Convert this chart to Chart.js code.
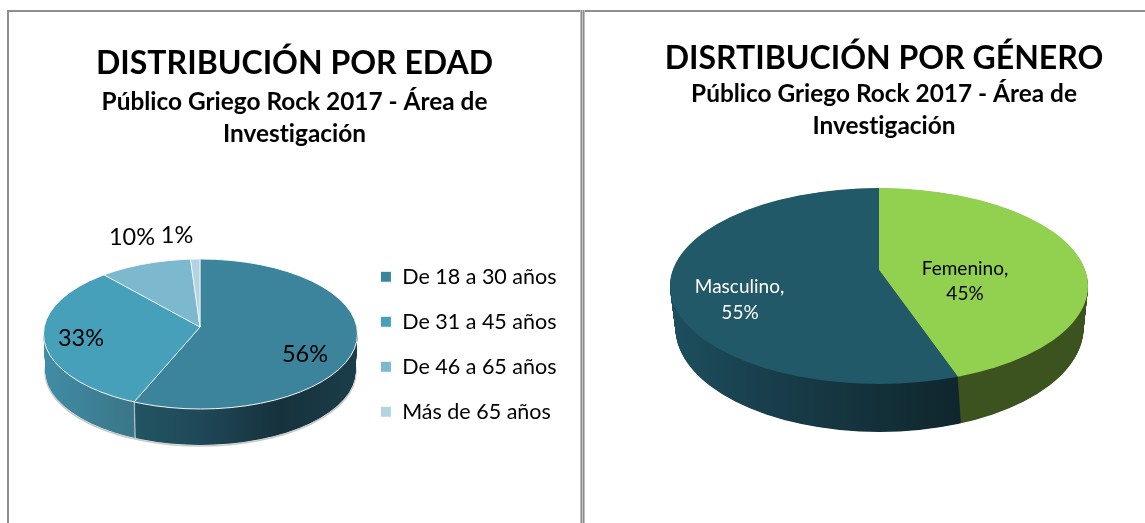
<!DOCTYPE html>
<html>
<head>
<meta charset="utf-8">
<script src="https://cdn.jsdelivr.net/npm/chart.js@4/dist/chart.umd.js"></script>
<style>
html,body{margin:0;padding:0;background:#fff;width:1145px;height:523px;overflow:hidden}
canvas{position:absolute;top:0}
.ln{position:absolute;background:#8e8e8e}
</style>
</head>
<body>
<div class="ln" style="left:7px;top:10px;width:1138px;height:2px"></div>
<div class="ln" style="left:7px;top:10px;width:2px;height:513px"></div>
<div class="ln" style="left:580px;top:10px;width:5px;height:513px;background:linear-gradient(90deg,#bdbdbd 0 20%,#8a8a8a 20% 40%,#c4c4c4 40% 60%,#8a8a8a 60% 80%,#bdbdbd 80% 100%)"></div>
<canvas id="edad" width="569" height="523" style="left:10px"></canvas>
<canvas id="genero" width="522" height="523" style="left:623px"></canvas>
<script>
const edadTitle = 'DISTRIBUCIÓN POR EDAD';
const generoTitle = 'DISRTIBUCIÓN POR GÉNERO';
const subtitleLines = ['Público Griego Rock 2017 - Área de', 'Investigación'];

const edadCategories = ['De 18 a 30 años', 'De 31 a 45 años', 'De 46 a 65 años', 'Más de 65 años'];
const edadValues = [56, 33, 10, 1];
const edadColors = ['#3b849c', '#46a0ba', '#7cb8ce', '#b4d4e1'];

const generoCategories = ['Femenino', 'Masculino'];
const generoValues = [45, 55];
const generoColors = ['#92d050', '#215968'];

const FONT = 'Lato, Carlito, Calibri, sans-serif';

// Tilted-pie drawing: re-draws the library's own arc elements under a transform.
const pie3d = {
  id: 'pie3d',
  beforeDraw(chart) {
    chart.ctx.letterSpacing = '0.001px';
  },
  beforeDatasetDraw(chart, args, o) {
    const ctx = chart.ctx;
    const arcs = chart.getDatasetMeta(0).data;
    const k = 2 * o.top.rx / arcs[0].outerRadius;
    const paint = (ell, ax, ay, fillFor, bw) => {
      ctx.save();
      ctx.beginPath();
      ctx.ellipse(ell.cx - o.left, ell.cy, ell.rx, ell.ry, 0, 0, Math.PI * 2);
      ctx.clip();
      arcs.forEach((el, i) => {
        const saved = el.options;
        ctx.save();
        ctx.translate(ax - o.left, ay);
        ctx.scale(k, k * o.tilt);
        ctx.translate(-el.x, -el.y);
        el.options = Object.assign({}, saved, {
          backgroundColor: fillFor(i, el, ax),
          borderColor: '#fff',
          borderWidth: bw / k
        });
        el.draw(ctx);
        el.options = saved;
        ctx.restore();
      });
      ctx.restore();
    };
    const wallFill = (i, el, ax) => {
      const g = ctx.createLinearGradient(
        el.x + (o.wallFrom - ax) / k, 0, el.x + (o.wallTo - ax) / k, 0);
      o.walls[i].forEach(s => g.addColorStop((s[0] - o.wallFrom) / (o.wallTo - o.wallFrom), s[1]));
      return g;
    };
    if (o.halo) {
      ctx.save();
      ctx.strokeStyle = o.halo;
      ctx.lineWidth = 1.6;
      ctx.beginPath();
      ctx.ellipse(o.bottom.cx - o.left, o.bottom.cy + 0.5, o.bottom.rx + 0.5, o.bottom.ry + 0.5, 0, 0, Math.PI * 2);
      ctx.stroke();
      ctx.restore();
    }
    const steps = 70;
    for (let s = steps; s >= 1; s--) {
      const t = s / steps;
      const e = {
        cx: o.top.cx + (o.bottom.cx - o.top.cx) * t,
        cy: o.top.cy + (o.bottom.cy - o.top.cy) * t,
        rx: o.top.rx + (o.bottom.rx - o.top.rx) * t,
        ry: o.top.ry + (o.bottom.ry - o.top.ry) * t
      };
      paint(e, o.apex.x, o.apex.y + (e.cy - o.top.cy), wallFill, o.border);
    }
    paint(o.top, o.apex.x, o.apex.y, (i, el) => el.options.backgroundColor, o.border);
    if (o.border) {
      ctx.save();
      ctx.strokeStyle = '#f4f8f9';
      ctx.lineWidth = 1;
      ctx.beginPath();
      ctx.ellipse(o.top.cx - o.left, o.top.cy, o.top.rx, o.top.ry, 0, 0, Math.PI * 2);
      ctx.stroke();
      ctx.restore();
    }
    return false;
  },
  afterDatasetsDraw(chart, args, o) {
    const ctx = chart.ctx;
    ctx.save();
    ctx.textAlign = 'center';
    ctx.textBaseline = 'middle';
    o.labels.forEach(l => {
      ctx.font = o.labelFont;
      ctx.fillStyle = l.color;
      ctx.fillText(l.text, l.x - o.left, l.y);
    });
    ctx.restore();
  }
};

const baseOptions = (titleText, titleTop, titleSize, subSize, subPad) => ({
  responsive: false,
  animation: false,
  events: [],
  plugins: {
    tooltip: { enabled: false },
    title: {
      display: true,
      text: titleText,
      color: '#000',
      font: { family: FONT, size: titleSize, weight: 'bold', lineHeight: 1.2 },
      padding: { top: titleTop, bottom: subPad }
    },
    subtitle: {
      display: true,
      text: subtitleLines,
      color: '#000',
      font: { family: FONT, size: subSize, weight: 'bold', lineHeight: 1.31 },
      padding: { top: 0, bottom: 10 }
    }
  }
});

const edadOpts = baseOptions(edadTitle, 44, 32, 24.4, 3.6);
edadOpts.layout = { padding: { left: 12.5, right: 12.5, bottom: 77 } };
edadOpts.plugins.legend = {
  display: true,
  position: 'right',
  align: 'end',
  labels: {
    color: '#000',
    boxWidth: 11,
    boxHeight: 11,
    padding: 23.5,
    font: { family: FONT, size: 21.5 }
  }
};
edadOpts.plugins.pie3d = {
  left: 10,
  apex: { x: 200, y: 327 },
  tilt: 0.45,
  top: { cx: 200.5, cy: 334, rx: 157, ry: 75 },
  bottom: { cx: 200.5, cy: 371, rx: 155, ry: 74 },
  border: 1,
  halo: '#c9c9c9',
  wallFrom: 40,
  wallTo: 360,
  walls: [
    [[40, '#235563'], [133, '#235563'], [200, '#1f4858'], [280, '#16323d'], [360, '#1b3d4a']],
    [[40, '#418ea7'], [133, '#3a7687'], [360, '#3a7687']],
    [[40, '#7cb8ce'], [360, '#7cb8ce']],
    [[40, '#b4d4e1'], [360, '#b4d4e1']]
  ],
  labelFont: '23.5px ' + FONT,
  labels: [
    { text: edadValues[0] + '%', x: 305, y: 354, color: '#000' },
    { text: edadValues[1] + '%', x: 81, y: 338, color: '#000' },
    { text: edadValues[2] + '%', x: 132, y: 237, color: '#000' },
    { text: edadValues[3] + '%', x: 177, y: 235, color: '#000' }
  ]
};

const generoOpts = baseOptions(generoTitle, 39, 32, 24.4, 0.8);
generoOpts.plugins.legend = { display: false };
generoOpts.plugins.pie3d = {
  left: 623,
  apex: { x: 879, y: 270 },
  tilt: 0.44,
  top: { cx: 879, cy: 286, rx: 209, ry: 98 },
  bottom: { cx: 879.5, cy: 328, rx: 204, ry: 104 },
  border: 0,
  halo: null,
  wallFrom: 670,
  wallTo: 1090,
  walls: [
    [[670, '#3c5320'], [1090, '#3c5320']],
    [[670, '#1d4f5e'], [760, '#193f4d'], [880, '#133039'], [958, '#10262e'], [1090, '#10262e']]
  ],
  labelFont: '19px ' + FONT,
  labels: [
    { text: generoCategories[0] + ',', x: 965, y: 269, color: '#000' },
    { text: generoValues[0] + '%', x: 965, y: 294, color: '#000' },
    { text: generoCategories[1] + ',', x: 739.5, y: 287, color: '#fff' },
    { text: generoValues[1] + '%', x: 740, y: 313, color: '#fff' }
  ]
};

new Chart(document.getElementById('edad'), {
  type: 'pie',
  data: {
    labels: edadCategories,
    datasets: [{ data: edadValues, backgroundColor: edadColors, borderColor: '#fff', borderWidth: 1 }]
  },
  options: edadOpts,
  plugins: [pie3d]
});

new Chart(document.getElementById('genero'), {
  type: 'pie',
  data: {
    labels: generoCategories,
    datasets: [{ data: generoValues, backgroundColor: generoColors, borderWidth: 0 }]
  },
  options: generoOpts,
  plugins: [pie3d]
});
</script>
</body>
</html>
